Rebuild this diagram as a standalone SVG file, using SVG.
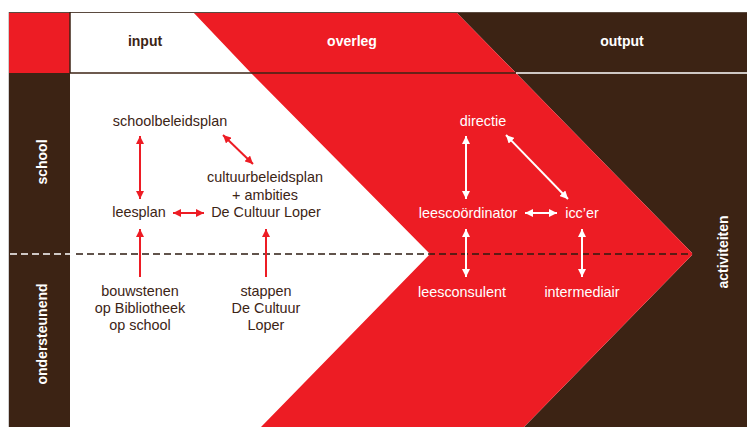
<svg xmlns="http://www.w3.org/2000/svg" width="747" height="427" viewBox="0 0 747 427">
<style>
.t{font-family:"Liberation Sans",Arial,sans-serif;font-size:14.4px;text-anchor:middle}
.d{fill:#3c2415}
.w{fill:#ffffff}
.h{font-family:"Liberation Sans",Arial,sans-serif;font-size:14px;font-weight:bold;text-anchor:middle}
.ra{stroke:#ed1c24;stroke-width:2;fill:none}
.wa{stroke:#ffffff;stroke-width:2;fill:none}
</style>
<defs>
<marker id="rh" viewBox="0 0 8 8" refX="8" refY="4" markerWidth="8" markerHeight="8" markerUnits="userSpaceOnUse" orient="auto-start-reverse">
<path d="M0,0 L8,4 L0,8 z" fill="#ed1c24"/>
</marker>
<marker id="wh" viewBox="0 0 8 8" refX="8" refY="4" markerWidth="8" markerHeight="8" markerUnits="userSpaceOnUse" orient="auto-start-reverse">
<path d="M0,0 L8,4 L0,8 z" fill="#ffffff"/>
</marker>
</defs>
<g id="background">
<rect x="0" y="0" width="747" height="427" fill="#ffffff"/>
<polygon points="456,12 747,12 747,427 524,427 693,254 516,73" fill="#3c2314"/>
<polygon points="193,12 456,12 516,73 693,254 524,427 261,427 430,254 251,73" fill="#ed1c24"/>
<rect x="9" y="73" width="61" height="354" fill="#3c2314"/>
<rect x="9" y="12" width="61" height="61" fill="#ed1c24"/>
<line x1="8.5" y1="12" x2="8.5" y2="427" stroke="#cfcfcf" stroke-width="1"/>
<line x1="9" y1="12.5" x2="747" y2="12.5" stroke="#5a4a3f" stroke-width="1"/>
<line x1="70" y1="73" x2="516" y2="73" stroke="#3c2314" stroke-width="1.5"/>
<line x1="516" y1="73" x2="747" y2="73" stroke="#ffffff" stroke-width="1.5"/>
<line x1="70" y1="12" x2="70" y2="73" stroke="#3c2314" stroke-width="1.5"/>
<line x1="10" y1="254" x2="70" y2="254" stroke="#ffffff" stroke-width="1.5" stroke-dasharray="7 4"/>
<line x1="76" y1="254" x2="693" y2="254" stroke="#2e1b10" stroke-width="1.5" stroke-dasharray="7 4"/>
</g>
<g id="headers">
<text class="h d" x="145" y="46">input</text>
<text class="h w" x="352" y="46">overleg</text>
<text class="h w" x="622" y="46">output</text>
<text class="h w" transform="translate(46.5,162) rotate(-90)">school</text>
<text class="h w" transform="translate(46.5,334) rotate(-90)">ondersteunend</text>
<text class="h w" transform="translate(728,252) rotate(-90)">activiteiten</text>
</g>
<g id="connectors">
<line class="ra" x1="140" y1="136" x2="140" y2="199" marker-start="url(#rh)" marker-end="url(#rh)"/>
<line class="ra" x1="223" y1="135" x2="253" y2="164" marker-start="url(#rh)" marker-end="url(#rh)"/>
<line class="ra" x1="173" y1="213" x2="204" y2="213" marker-start="url(#rh)" marker-end="url(#rh)"/>
<line class="ra" x1="140" y1="277" x2="140" y2="229" marker-end="url(#rh)"/>
<line class="ra" x1="266" y1="277" x2="266" y2="229" marker-end="url(#rh)"/>
<line class="wa" x1="466" y1="136" x2="466" y2="199" marker-start="url(#wh)" marker-end="url(#wh)"/>
<line class="wa" x1="506" y1="135" x2="568" y2="199" marker-start="url(#wh)" marker-end="url(#wh)"/>
<line class="wa" x1="525" y1="213" x2="557" y2="213" marker-start="url(#wh)" marker-end="url(#wh)"/>
<line class="wa" x1="466" y1="229" x2="466" y2="277" marker-start="url(#wh)" marker-end="url(#wh)"/>
<line class="wa" x1="582" y1="229" x2="582" y2="277" marker-start="url(#wh)" marker-end="url(#wh)"/>
</g>
<g id="schoolbeleidsplan"><text class="t d" x="170" y="126">schoolbeleidsplan</text></g>
<g id="cultuurbeleidsplan">
<text class="t d" x="265" y="182">cultuurbeleidsplan</text>
<text class="t d" x="265" y="199.5">+ ambities</text>
<text class="t d" x="266" y="217">De Cultuur Loper</text>
</g>
<g id="leesplan"><text class="t d" x="139" y="217">leesplan</text></g>
<g id="bouwstenen">
<text class="t d" x="140" y="296">bouwstenen</text>
<text class="t d" x="140" y="313">op Bibliotheek</text>
<text class="t d" x="140" y="330">op school</text>
</g>
<g id="stappen">
<text class="t d" x="266" y="296">stappen</text>
<text class="t d" x="266" y="313">De Cultuur</text>
<text class="t d" x="266" y="330">Loper</text>
</g>
<g id="directie"><text class="t w" x="483" y="126">directie</text></g>
<g id="leescoordinator"><text class="t w" x="468" y="217.5">leescoördinator</text></g>
<g id="iccer"><text class="t w" x="582" y="217.5">icc’er</text></g>
<g id="leesconsulent"><text class="t w" x="462" y="297">leesconsulent</text></g>
<g id="intermediair"><text class="t w" x="582" y="297">intermediair</text></g>
</svg>
